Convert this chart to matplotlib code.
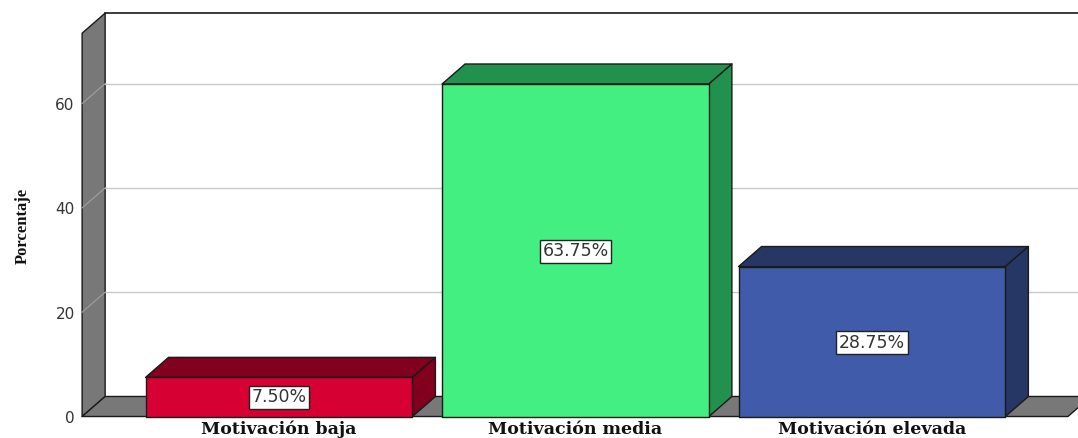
import matplotlib
matplotlib.use("Agg")
import matplotlib.pyplot as plt
from matplotlib.patches import Polygon

categorias = ["Motivación baja", "Motivación media", "Motivación elevada"]
porcentajes = [7.50, 63.75, 28.75]
etiquetas = ["7.50%", "63.75%", "28.75%"]
ticks = [0, 20, 40, 60]
frente = ["#d60032", "#43ef80", "#3f5ba9"]
oscuro = ["#82001e", "#23914e", "#263766"]

gris = "#787878"
linea = "#1a1a1a"
ymax = 73.5
x0, x1 = -0.664, 2.661
dx, dy = 0.0776, 3.84
ancho = 0.9

fig = plt.figure(figsize=(10.78, 4.38), dpi=100)
ax = fig.add_axes([0, 0, 1, 1])
ax.set_xlim(-0.941, 2.695)
ax.set_ylim(-4.12, 79.86)
ax.axis("off")


def caja(pts, color, z):
    ax.add_patch(Polygon(pts, closed=True, fc=color, ec=linea, lw=1.0, zorder=z, joinstyle="round"))


# pared izquierda y suelo
caja([(x0, 0), (x0 + dx, dy), (x0 + dx, ymax + dy), (x0, ymax)], gris, 1)
caja([(x0, 0), (x0 + dx, dy), (x1 + dx, dy), (x1, 0)], gris, 1)
ax.plot([x0 + dx, x1 + dx], [ymax + dy, ymax + dy], color=linea, lw=1.2, zorder=2)

for t in ticks[1:]:
    ax.plot([x0 + dx, x1 + dx], [t + dy, t + dy], color="#c8c8c8", lw=1.0, zorder=2)
    ax.plot([x0, x0 + dx], [t, t + dy], color="#a0a0a0", lw=0.8, zorder=2)
for t in ticks:
    ax.text(x0 - 0.025, t - 0.4, str(t), ha="right", va="center", fontsize=11,
            family="DejaVu Sans", color="#333333", zorder=6)

for i, v in enumerate(porcentajes):
    izq, der = i - ancho / 2, i + ancho / 2
    caja([(izq, v), (izq + dx, v + dy), (der + dx, v + dy), (der, v)], oscuro[i], 3)
    caja([(der, 0), (der + dx, dy), (der + dx, v + dy), (der, v)], oscuro[i], 3)
    caja([(izq, 0), (der, 0), (der, v), (izq, v)], frente[i], 4)
    ax.text(i, v / 2 - 0.2 if i else 3.7, etiquetas[i], ha="center", va="center", fontsize=12.5,
            family="DejaVu Sans", color="#333333", zorder=6,
            bbox=dict(boxstyle="square,pad=0.15", fc="white", ec="#222222", lw=1))
    ax.text(i, -2.45, categorias[i], ha="center", va="center", fontsize=12.5,
            family="DejaVu Serif", fontweight="bold", color="#111111", zorder=6)

ax.text(-0.863, 36.5, "Porcentaje", rotation=90, ha="center", va="center", fontsize=12,
        family="Liberation Serif", fontweight="bold", color="#111111")

fig.savefig("out.png", dpi=100)
